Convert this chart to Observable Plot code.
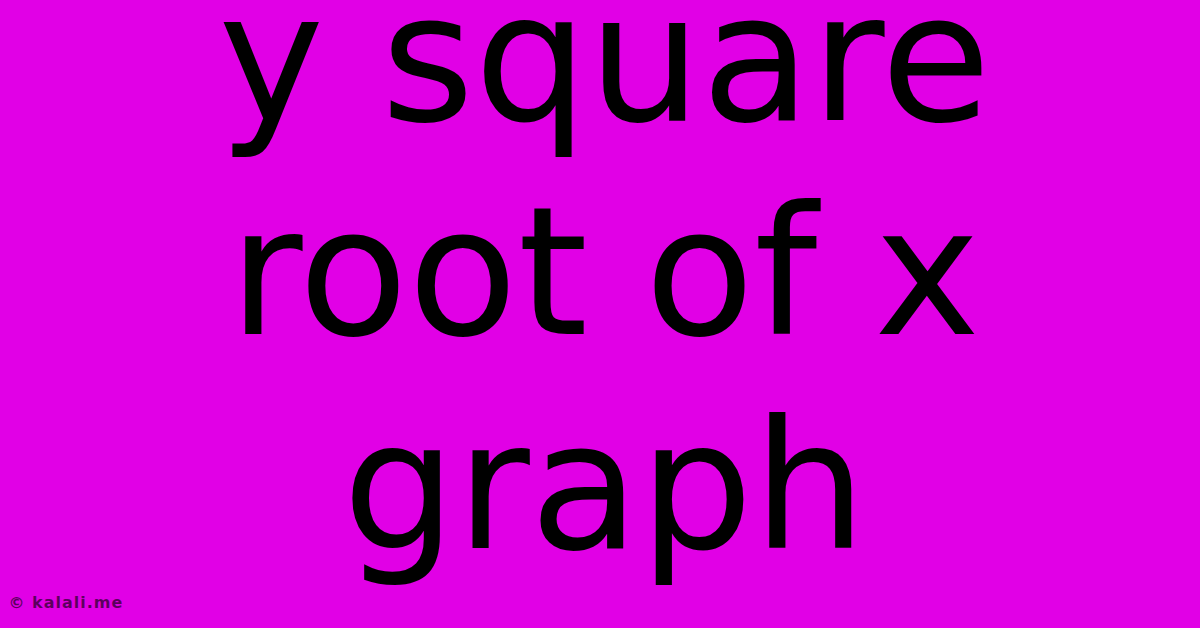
<!DOCTYPE html>
<html>
<head>
<meta charset="utf-8">
<script src="https://cdn.jsdelivr.net/npm/d3@7"></script>
<script src="https://cdn.jsdelivr.net/npm/@observablehq/plot@0.6"></script>
<style>
  html, body { margin: 0; padding: 0; background: #e100e6; overflow: hidden; }
  #chart svg { display: block; }
</style>
</head>
<body>
<div id="chart"></div>
<script>
// Title lines (the whole "chart" is a text card)
const titleLines = ["y square", "root of x", "graph"];
const lineIndex = [0, 1, 2];
const watermark = ["© kalali.me"];

const rows = titleLines.map((t, i) => ({ text: t, line: lineIndex[i] }));

const chart = Plot.plot({
  width: 1200,
  height: 628,
  margin: 0,
  style: { background: "#e100e6", overflow: "visible" },
  x: { domain: [0, 1], axis: null },
  y: { domain: [0, 2], range: [119, 547], axis: null },
  marks: [
    Plot.text(rows, {
      x: () => 0.5,
      y: "line",
      text: "text",
      dx: 4,
      lineAnchor: "bottom",
      textAnchor: "middle",
      fontSize: 179,
      fontFamily: "DejaVu Sans",
      fill: "#000000"
    }),
    Plot.text(watermark, {
      text: d => d,
      frameAnchor: "bottom-left",
      textAnchor: "start",
      lineAnchor: "bottom",
      dx: 8,
      dy: -21,
      fontSize: 16,
      fontWeight: "bold",
      fontFamily: "DejaVu Sans",
      fill: "#000000",
      fillOpacity: 0.6
    })
  ]
});
chart.querySelectorAll("text").forEach(t => {
  if (t.textContent.includes("kalali")) t.setAttribute("letter-spacing", "1px");
});
document.getElementById("chart").appendChild(chart);
</script>
</body>
</html>
